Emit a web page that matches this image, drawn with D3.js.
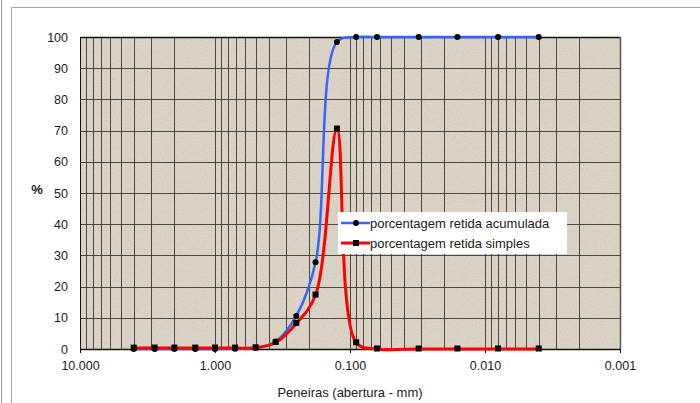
<!DOCTYPE html>
<html>
<head>
<meta charset="utf-8">
<script src="https://cdn.jsdelivr.net/npm/d3@7"></script>
<style>
  body { margin: 0; background: #fff; }
  text { font-family: "Liberation Sans", Arial, sans-serif; fill: #1a1a1a; }
</style>
</head>
<body>
<div id="chart"></div>
<script>
// sieve openings (mm) and the two series
const sieves = [4, 2.8, 2, 1.4, 1, 0.71, 0.5, 0.355, 0.25, 0.18, 0.125, 0.09, 0.063, 0.031, 0.016, 0.008, 0.004];
const accumulated = [0, 0, 0, 0, 0, 0.1, 0.3, 2.4, 10.6, 27.8, 98.4, 100, 100, 100, 100, 100, 100];
const simple = [0.3, 0.3, 0.3, 0.3, 0.3, 0.3, 0.4, 2.1, 8.2, 17.3, 70.5, 2.0, 0, 0, 0, 0, 0];
const xTicks = [10, 1, 0.1, 0.01, 0.001];
const yTicks = [0, 10, 20, 30, 40, 50, 60, 70, 80, 90, 100];
const seriesNames = ["porcentagem retida acumulada", "porcentagem retida simples"];

var margin = { top: 37, left: 80 },
    width = 540,
    height = 312;

var svg = d3.select("#chart")
    .append("svg")
    .attr("width", 700)
    .attr("height", 403);

// outer frame of the image
svg.append("line")
    .attr("x1", 1.5).attr("x2", 1.5).attr("y1", 0).attr("y2", 403)
    .attr("stroke", "#9a9a9a");
svg.append("rect")
    .attr("x", 11.5).attr("y", 7.5).attr("width", 720).attr("height", 420)
    .attr("fill", "none").attr("stroke", "#a8a8a8");

// granite-like texture
var defs = svg.append("defs");
var filt = defs.append("filter").attr("id", "speckle")
    .attr("x", 0).attr("y", 0).attr("width", "100%").attr("height", "100%");
filt.append("feTurbulence").attr("type", "fractalNoise")
    .attr("baseFrequency", 0.9).attr("numOctaves", 2).attr("seed", 3);
filt.append("feColorMatrix").attr("type", "matrix")
    .attr("values", "0 0 0 0 0.6  0 0 0 0 0.55  0 0 0 0 0.48  0 0 0 -2.6 1.45");
filt.append("feComposite").attr("in2", "SourceGraphic").attr("operator", "in");

var g = svg.append("g")
    .attr("transform", "translate(" + margin.left + "," + margin.top + ")");

var x = d3.scaleLog().domain([10, 0.001]).range([0, width]);
var y = d3.scaleLinear().domain([0, 100]).range([height, 0]);

g.append("rect")
    .attr("width", width).attr("height", height)
    .attr("fill", "#dcd4c7");
g.append("rect")
    .attr("width", width).attr("height", height)
    .attr("fill", "#fff")
    .attr("filter", "url(#speckle)")
    .attr("opacity", 0.7);

// vertical log grid (1..9 in every decade)
var minor = [];
[1, 0.1, 0.01, 0.001].forEach(function (dec) {
    for (var k = 1; k <= 9; k++) minor.push(dec * k);
});
minor = minor.filter(function (v) { return v <= 10 && v >= 0.001; });
g.selectAll("line.vgrid")
    .data(minor)
    .enter().append("line")
    .attr("class", "vgrid")
    .attr("x1", function (d) { return Math.round(x(d)) + 0.5; })
    .attr("x2", function (d) { return Math.round(x(d)) + 0.5; })
    .attr("y1", 0).attr("y2", height)
    .attr("stroke", "#36302a").attr("stroke-opacity", 0.85);

g.selectAll("line.hgrid")
    .data(yTicks)
    .enter().append("line")
    .attr("class", "hgrid")
    .attr("x1", 0).attr("x2", width)
    .attr("y1", function (d) { return Math.round(y(d)) + 0.5; })
    .attr("y2", function (d) { return Math.round(y(d)) + 0.5; })
    .attr("stroke", "#36302a").attr("stroke-opacity", 0.85);

// plot border
g.append("line").attr("x1", 0).attr("x2", width).attr("y1", 0.5).attr("y2", 0.5).attr("stroke", "#111").attr("stroke-width", 1.5);
g.append("line").attr("x1", 0.5).attr("x2", 0.5).attr("y1", 0).attr("y2", height).attr("stroke", "#222");
g.append("line").attr("x1", width + 0.5).attr("x2", width + 0.5).attr("y1", 0).attr("y2", height).attr("stroke", "#555").attr("stroke-width", 1.5);

// axes
var xAxis = g.append("g")
    .attr("transform", "translate(0," + height + ")")
    .call(d3.axisBottom(x).tickValues(xTicks).tickFormat(d3.format(".3f")).tickSize(4).tickPadding(8));
var yAxis = g.append("g")
    .call(d3.axisLeft(y).tickValues(yTicks).tickSize(0).tickPadding(12));
[xAxis, yAxis].forEach(function (ax) {
    ax.selectAll("path").attr("stroke", "#111");
    ax.selectAll("line").attr("stroke", "#111");
    ax.selectAll("text").style("font-size", "12.5px").style("font-family", "Liberation Sans, Arial, sans-serif").attr("fill", "#1a1a1a");
});
xAxis.select("path").attr("stroke-width", 1.5).attr("d", "M0,0.5H" + width);

// axis titles
svg.append("text")
    .attr("x", 350).attr("y", 397)
    .attr("text-anchor", "middle")
    .style("font-size", "13px")
    .text("Peneiras (abertura - mm)");
svg.append("text")
    .attr("x", 37).attr("y", 194)
    .attr("text-anchor", "middle")
    .style("font-size", "13px")
    .style("font-weight", "bold")
    .text("%");

// series
var blueData = sieves.map(function (s, i) { return [s, accumulated[i]]; });
var redData = sieves.map(function (s, i) { return [s, simple[i]]; });
var line = d3.line()
    .x(function (d) { return x(d[0]); })
    .y(function (d) { return y(d[1]); })
    .curve(d3.curveCatmullRom.alpha(0.5));

g.append("path").datum(blueData)
    .attr("d", line).attr("fill", "none")
    .attr("stroke", "#3366ff").attr("stroke-width", 2.5);
g.selectAll("circle.acc")
    .data(blueData).enter().append("circle")
    .attr("class", "acc")
    .attr("cx", function (d) { return x(d[0]); })
    .attr("cy", function (d) { return y(d[1]); })
    .attr("r", 3).attr("fill", "#000");

g.append("path").datum(redData)
    .attr("d", line).attr("fill", "none")
    .attr("stroke", "#ff0000").attr("stroke-width", 3);
g.selectAll("rect.simp")
    .data(redData).enter().append("rect")
    .attr("class", "simp")
    .attr("x", function (d) { return x(d[0]) - 3; })
    .attr("y", function (d) { return y(d[1]) - 3.5; })
    .attr("width", 6).attr("height", 6).attr("fill", "#000");

// legend
var lg = svg.append("g").attr("transform", "translate(338,212)");
lg.append("rect").attr("width", 229).attr("height", 42).attr("fill", "#fff");
var colors = ["#3366ff", "#ff0000"];
seriesNames.forEach(function (name, i) {
    var yy = 11 + i * 20;
    lg.append("line").attr("x1", 3).attr("x2", 32).attr("y1", yy).attr("y2", yy)
        .attr("stroke", colors[i]).attr("stroke-width", i ? 3 : 2.5);
    if (i === 0) {
        lg.append("circle").attr("cx", 18).attr("cy", yy).attr("r", 3).attr("fill", "#000");
    } else {
        lg.append("rect").attr("x", 15).attr("y", yy - 3).attr("width", 6).attr("height", 6).attr("fill", "#000");
    }
    lg.append("text").attr("x", 32).attr("y", yy + 4.5)
        .style("font-size", "13px")
        .text(name);
});
</script>
</body>
</html>
